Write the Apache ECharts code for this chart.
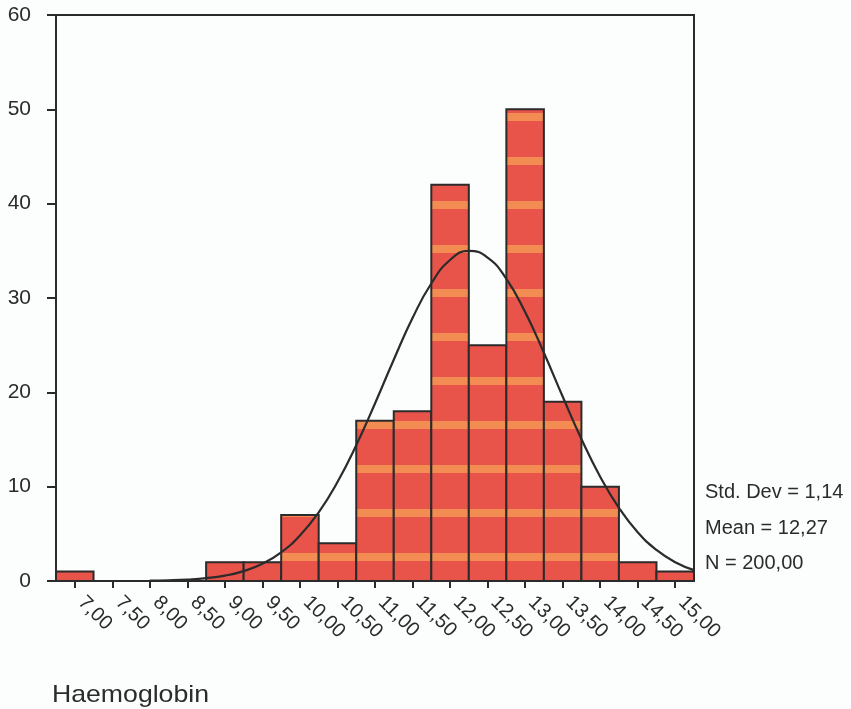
<!DOCTYPE html>
<html>
<head>
<meta charset="utf-8">
<title>Haemoglobin</title>
<script src="https://cdn.jsdelivr.net/npm/echarts@6/dist/echarts.min.js"></script>
<style>
  html, body { margin: 0; padding: 0; background: #fcfdfd; }
  #chart { width: 851px; height: 709px; }
</style>
</head>
<body>
<div id="chart"></div>
<script>
// Histogram bins (centre of each 0.5-wide class) and their frequencies
const binCentres = [7.0, 7.5, 8.0, 8.5, 9.0, 9.5, 10.0, 10.5, 11.0, 11.5, 12.0, 12.5, 13.0, 13.5, 14.0, 14.5, 15.0];
const frequencies = [1, 0, 0, 0, 2, 2, 7, 4, 17, 18, 42, 25, 50, 19, 10, 2, 1];
const binWidth = 0.5;

// Fitted normal curve (Mean 12,27, Std. Dev 1,14, N 200)
const curveX = [8.0, 8.25, 8.5, 8.75, 9.0, 9.25, 9.5, 9.75, 10.0, 10.25, 10.5, 10.75, 11.0, 11.25, 11.5, 11.75,
                12.0, 12.25, 12.5, 12.75, 13.0, 13.25, 13.5, 13.75, 14.0, 14.25, 14.5, 14.75, 15.0, 15.25];
const curveY = [0.03, 0.07, 0.15, 0.30, 0.57, 1.05, 1.83, 3.04, 4.82, 7.28, 10.49, 14.39, 18.82, 23.46, 27.87, 31.54,
                34.03, 35.0, 34.29, 32.03, 28.51, 24.19, 19.56, 15.06, 11.06, 7.75, 5.17, 3.29, 1.99, 1.15];

// Axis ticks
const xTicks = [7.0, 7.5, 8.0, 8.5, 9.0, 9.5, 10.0, 10.5, 11.0, 11.5, 12.0, 12.5, 13.0, 13.5, 14.0, 14.5, 15.0];
const statLines = ['Std. Dev = 1,14', 'Mean = 12,27', 'N = 200,00'];
const axisTitle = 'Haemoglobin';

const FONT = 'Liberation Sans, Arial, sans-serif';
const INK = '#2b2b2b';

// Striped fill: red bars with horizontal orange bands
const stripe = document.createElement('canvas');
stripe.width = 8; stripe.height = 44;
const sctx = stripe.getContext('2d');
sctx.fillStyle = '#e8534a';
sctx.fillRect(0, 0, 8, 44);
sctx.fillStyle = '#f28c52';
sctx.fillRect(0, 25, 8, 8);

const fmt = v => v.toFixed(2).replace('.', ',');

const chart = echarts.init(document.getElementById('chart'), null, { renderer: 'canvas' });

const barData = binCentres.map((c, i) => [c, frequencies[i]]);
const lineData = curveX.map((x, i) => [x, curveY[i]]);

chart.setOption({
  animation: false,
  backgroundColor: '#fcfdfd',
  grid: {
    left: 56, right: 157, top: 15, bottom: 128,
    show: true, borderColor: INK, borderWidth: 2, backgroundColor: 'transparent'
  },
  xAxis: {
    type: 'value',
    min: binCentres[0] - binWidth / 2,
    max: binCentres[binCentres.length - 1] + binWidth / 2,
    splitLine: { show: false },
    axisLine: { show: true, onZero: false, lineStyle: { color: INK, width: 2 } },
    axisTick: { show: true, customValues: xTicks, length: 7, lineStyle: { color: INK, width: 2 } },
    axisLabel: {
      customValues: xTicks,
      formatter: v => fmt(v),
      rotate: -45,
      margin: 12,
      padding: [0, 0, 0, 9],
      color: INK,
      fontFamily: FONT,
      fontSize: 20
    }
  },
  yAxis: {
    type: 'value',
    min: 0, max: 60, interval: 10,
    splitLine: { show: false },
    axisLine: { show: true, lineStyle: { color: INK, width: 2 } },
    axisTick: { show: true, length: 9, lineStyle: { color: INK, width: 2 } },
    axisLabel: {
      margin: 25,
      color: INK,
      fontFamily: FONT,
      fontSize: 21
    }
  },
  series: [
    {
      type: 'custom',
      data: barData,
      z: 2,
      renderItem: function (params, api) {
        const c = api.value(0);
        const n = api.value(1);
        if (n <= 0) return null;
        const p0 = api.coord([c - binWidth / 2, n]);
        const p1 = api.coord([c + binWidth / 2, 0]);
        return {
          type: 'rect',
          shape: { x: p0[0], y: p0[1], width: p1[0] - p0[0], height: p1[1] - p0[1] },
          style: {
            fill: { image: stripe, repeat: 'repeat' },
            stroke: INK,
            lineWidth: 2
          }
        };
      }
    },
    {
      type: 'line',
      data: lineData,
      smooth: true,
      showSymbol: false,
      z: 3,
      lineStyle: { color: INK, width: 2.2 }
    }
  ],
  graphic: [
    ...statLines.map((t, i) => ({
      type: 'text',
      x: 705,
      y: [492, 528, 563][i],
      style: {
        text: t,
        fill: INK,
        fontFamily: FONT,
        fontSize: 20,
        textVerticalAlign: 'middle'
      }
    })),
    {
      type: 'text',
      x: 52,
      y: 695,
      scaleX: 1.11,
      style: {
        text: axisTitle,
        fill: INK,
        fontFamily: FONT,
        fontSize: 24,
        textVerticalAlign: 'middle'
      }
    }
  ]
});
</script>
</body>
</html>
